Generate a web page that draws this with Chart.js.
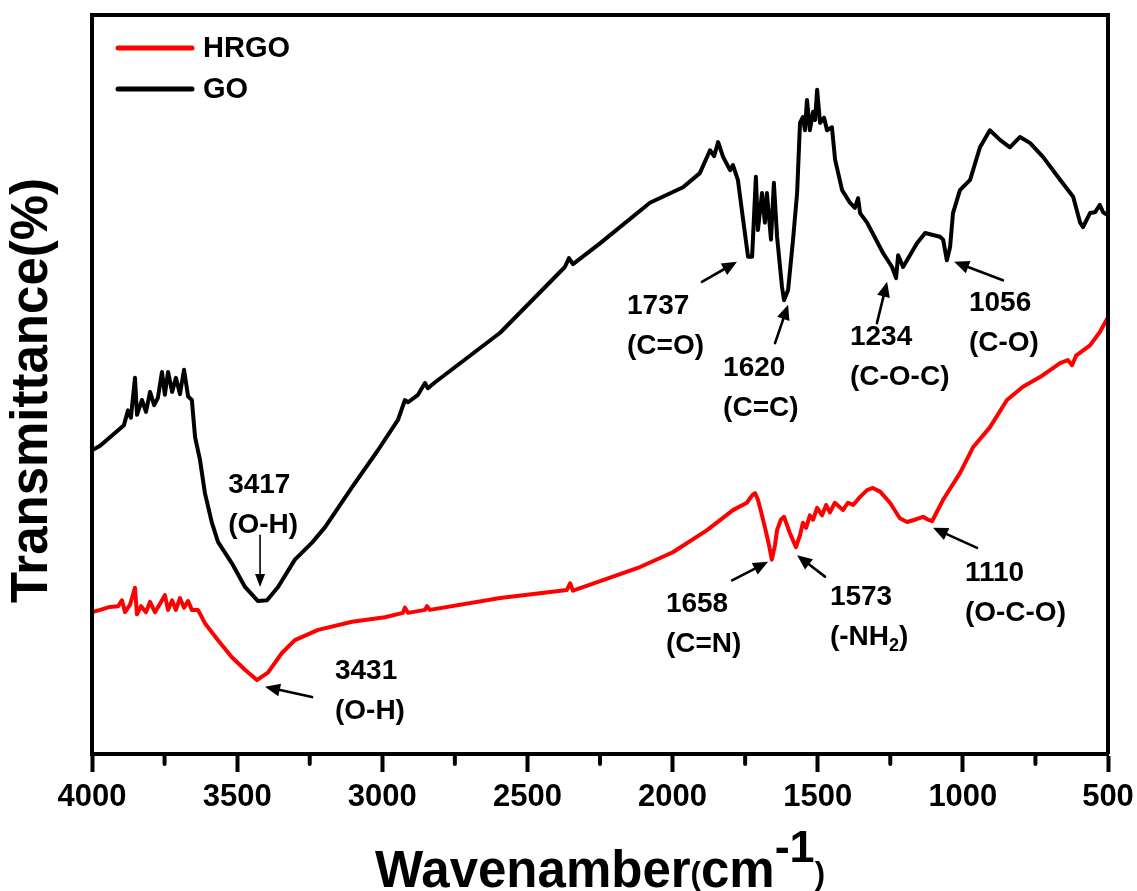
<!DOCTYPE html>
<html>
<head>
<meta charset="utf-8">
<title>FTIR spectra of GO and HRGO</title>
<script src="https://cdn.jsdelivr.net/npm/chart.js@4.4.0/dist/chart.umd.min.js"></script>
<style>
  html, body { margin: 0; padding: 0; background: #fff; }
  #wrap { width: 1137px; height: 891px; }
</style>
</head>
<body>
<div id="wrap"><canvas id="ftirChart" width="1137" height="891"></canvas></div>
<script>
// ==========================================
// Spectrum data
// ==========================================

const xTicks = [4000, 3500, 3000, 2500, 2000, 1500, 1000, 500];

const goWavenumber = [
    4000, 3972, 3910, 3890, 3876, 3866, 3852, 3845, 3828, 3814, 3800, 3786, 3773, 3759, 3749,
    3738, 3724, 3711, 3697, 3683, 3669, 3656, 3645, 3628, 3611, 3587, 3566, 3518, 3473, 3428,
    3397, 3359, 3301, 3242, 3197, 3104, 3015, 2946, 2922, 2911, 2877, 2853, 2843, 2818, 2594,
    2371, 2357, 2343, 2250, 2078, 1964, 1906, 1871, 1857, 1843, 1826, 1802, 1792, 1775, 1757,
    1740, 1726, 1713, 1706, 1692, 1682, 1675, 1661, 1651, 1640, 1623, 1616, 1602, 1585, 1571,
    1561, 1551, 1544, 1537, 1527, 1516, 1509, 1502, 1492, 1478, 1468, 1451, 1440, 1416, 1389,
    1372, 1361, 1354, 1330, 1275, 1244, 1230, 1223, 1206, 1158, 1130, 1079, 1068, 1055, 1044,
    1034, 1010, 975, 941, 907, 872, 838, 803, 769, 724, 665, 620, 596, 586, 562,
    545, 528, 517, 500
];
const goTransmittance = [
    41.1, 41.7, 43.8, 44.5, 46.5, 45.5, 50.9, 45.9, 47.9, 46.3, 49.0, 47.2, 48.2, 51.7, 48.6,
    51.7, 49.0, 50.9, 48.7, 52.0, 48.4, 47.9, 42.9, 39.8, 35.3, 31.3, 28.7, 25.8, 22.6, 20.7,
    20.8, 22.6, 26.3, 28.6, 30.7, 36.1, 41.1, 45.2, 47.9, 47.6, 48.6, 50.2, 49.5, 50.3, 57.0,
    65.9, 67.1, 66.3, 69.1, 74.6, 76.7, 78.6, 81.7, 80.9, 82.8, 80.8, 79.0, 79.7, 77.7, 72.3,
    67.3, 67.3, 78.1, 70.9, 75.9, 71.9, 75.9, 69.6, 77.3, 70.0, 63.2, 61.4, 62.8, 69.6, 75.9,
    85.4, 86.2, 84.4, 88.5, 84.4, 86.9, 85.8, 89.9, 85.4, 86.1, 84.4, 84.8, 80.4, 76.3, 74.6,
    73.9, 75.2, 73.2, 71.9, 67.8, 65.9, 64.4, 67.5, 65.9, 69.1, 70.5, 70.0, 69.6, 66.8, 68.6,
    73.2, 76.3, 77.7, 82.1, 84.4, 83.1, 82.1, 83.5, 82.7, 80.8, 77.7, 75.4, 71.9, 71.3, 73.2,
    73.3, 74.3, 73.3, 72.9
];

const hrgoWavenumber = [
    4000, 3972, 3938, 3910, 3897, 3886, 3869, 3852, 3845, 3831, 3814, 3800, 3783, 3766, 3749,
    3738, 3724, 3711, 3697, 3683, 3669, 3656, 3635, 3611, 3566, 3518, 3473, 3432, 3394, 3345,
    3301, 3221, 3104, 2991, 2929, 2922, 2911, 2853, 2846, 2836, 2594, 2364, 2353, 2343, 2112,
    1999, 1881, 1792, 1744, 1726, 1716, 1706, 1699, 1682, 1668, 1658, 1647, 1640, 1627, 1616,
    1606, 1596, 1575, 1561, 1551, 1540, 1527, 1516, 1502, 1485, 1471, 1458, 1441, 1413, 1396,
    1378, 1354, 1330, 1310, 1285, 1251, 1217, 1192, 1165, 1137, 1120, 1106, 1068, 1010, 965,
    907, 848, 793, 734, 665, 638, 624, 610, 562, 528, 500
];
const hrgoTransmittance = [
    19.2, 19.5, 19.9, 20.0, 20.8, 19.2, 20.2, 22.5, 18.9, 20.0, 19.2, 20.6, 19.2, 20.3, 21.5,
    19.5, 20.8, 19.5, 21.1, 19.8, 20.7, 19.5, 19.5, 17.7, 15.4, 13.1, 11.4, 10.0, 11.0, 13.7,
    15.4, 16.8, 17.9, 18.5, 19.1, 19.8, 19.1, 19.5, 20.0, 19.5, 21.1, 22.2, 23.1, 22.1, 25.3,
    27.3, 30.3, 33.0, 34.0, 35.0, 35.3, 34.4, 33.4, 30.7, 28.3, 26.3, 28.3, 30.3, 31.7, 32.1,
    31.0, 29.9, 28.0, 29.6, 31.3, 30.6, 32.3, 31.7, 33.3, 32.3, 33.7, 32.7, 34.0, 33.0, 34.0,
    33.7, 34.8, 35.7, 36.0, 35.5, 34.0, 31.9, 31.4, 31.7, 32.1, 31.7, 31.5, 34.4, 38.0, 41.5,
    44.2, 47.9, 49.7, 51.0, 52.9, 53.3, 52.6, 53.9, 55.3, 57.1, 59.1
];

// Peak assignments: text anchor and arrow (tail -> head) in data units
const peakNotes = [
    { lines: ['3417', '(O-H)'],   text: [3531, 36.4], arrow: [3421, 29.6, 3421, 22.6], thin: true },
    { lines: ['3431', '(O-H)'],   text: [3163, 11.2], arrow: [3242, 7.7, 3404, 9.1] },
    { lines: ['1737', '(C=O)'],   text: [2157, 60.6], arrow: [1899, 63.9, 1778, 66.6] },
    { lines: ['1620', '(C=C)'],   text: [1826, 52.2], arrow: [1647, 55.6, 1602, 60.8] },
    { lines: ['1234', '(C-O-C)'], text: [1389, 56.4], arrow: [1296, 58.3, 1261, 63.9] },
    { lines: ['1056', '(C-O)'],   text: [979, 61.0],  arrow: [862, 64.1, 1030, 66.6] },
    { lines: ['1658', '(C=N)'],   text: [2023, 20.3], arrow: [1795, 23.5, 1671, 26.0] },
    { lines: ['1573', '(-NH_2)'], text: [1458, 21.2], arrow: [1475, 24.0, 1571, 26.9] },
    { lines: ['1110', '(O-C-O)'], text: [993, 24.4],  arrow: [951, 27.9, 1103, 30.6] }
];

const FONT = "'Liberation Sans', Arial, sans-serif";

function toPoints(xs, ys) {
    return xs.map((x, i) => ({ x: x, y: ys[i] }));
}

// ==========================================
// Drawing helpers (frame, minor ticks, legend, notes, titles)
// ==========================================

function drawArrow(ctx, x1, y1, x2, y2, thin) {
    const ang = Math.atan2(y2 - y1, x2 - x1);
    const headLen = thin ? 13 : 15;
    const headW = thin ? 5 : 6.5;
    ctx.save();
    ctx.strokeStyle = '#000';
    ctx.fillStyle = '#000';
    ctx.lineWidth = thin ? 1.6 : 2.6;
    ctx.beginPath();
    ctx.moveTo(x1, y1);
    ctx.lineTo(x2 - Math.cos(ang) * headLen * 0.8, y2 - Math.sin(ang) * headLen * 0.8);
    ctx.stroke();
    ctx.beginPath();
    ctx.moveTo(x2, y2);
    ctx.lineTo(x2 - Math.cos(ang) * headLen + Math.sin(ang) * headW,
               y2 - Math.sin(ang) * headLen - Math.cos(ang) * headW);
    ctx.lineTo(x2 - Math.cos(ang) * headLen - Math.sin(ang) * headW,
               y2 - Math.sin(ang) * headLen + Math.cos(ang) * headW);
    ctx.closePath();
    ctx.fill();
    ctx.restore();
}

// draws "text" with "_2" style subscripts, left aligned, middle baseline
function drawNoteLine(ctx, text, x, y) {
    const parts = text.split(/_(\d)/);
    let cx = x;
    parts.forEach((part, i) => {
        if (!part) return;
        if (i % 2 === 1) {
            ctx.font = `bold 18px ${FONT}`;
            ctx.fillText(part, cx, y + 9);
        } else {
            ctx.font = `bold 28px ${FONT}`;
            ctx.fillText(part, cx, y);
        }
        cx += ctx.measureText(part).width;
    });
}

const decorPlugin = {
    id: 'decor',
    afterDraw(chart) {
        const ctx = chart.ctx;
        const area = chart.chartArea;
        const xs = chart.scales.x;
        const ys = chart.scales.y;

        ctx.save();
        ctx.strokeStyle = '#000';
        ctx.lineCap = 'butt';

        // frame
        ctx.lineWidth = 4;
        ctx.beginPath();
        ctx.moveTo(area.left, area.bottom);
        ctx.lineTo(area.left, area.top);
        ctx.lineTo(area.right, area.top);
        ctx.lineTo(area.right, area.bottom);
        ctx.stroke();

        // minor ticks every 250
        ctx.lineWidth = 4;
        ctx.lineCap = 'round';
        for (let w = 750; w < 4000; w += 500) {
            const px = xs.getPixelForValue(w);
            ctx.beginPath();
            ctx.moveTo(px, area.bottom);
            ctx.lineTo(px, area.bottom + 10);
            ctx.stroke();
        }

        // legend
        const legendItems = chart.data.datasets.map(ds => ({ label: ds.label, color: ds.borderColor }));
        legendItems.forEach((item, i) => {
            const ly = area.top + 33 + i * 41;
            ctx.strokeStyle = item.color;
            ctx.lineWidth = 5;
            ctx.lineCap = 'round';
            ctx.beginPath();
            ctx.moveTo(area.left + 26, ly);
            ctx.lineTo(area.left + 100, ly);
            ctx.stroke();
            ctx.fillStyle = '#000';
            ctx.font = `bold 29px ${FONT}`;
            ctx.textAlign = 'left';
            ctx.textBaseline = 'middle';
            ctx.fillText(item.label, area.left + 111, ly + 1);
        });

        // peak notes
        ctx.fillStyle = '#000';
        ctx.textAlign = 'left';
        ctx.textBaseline = 'middle';
        peakNotes.forEach(note => {
            const tx = xs.getPixelForValue(note.text[0]);
            const ty = ys.getPixelForValue(note.text[1]);
            note.lines.forEach((line, i) => drawNoteLine(ctx, line, tx, ty + i * 40));
            const a = note.arrow;
            drawArrow(ctx,
                xs.getPixelForValue(a[0]), ys.getPixelForValue(a[1]),
                xs.getPixelForValue(a[2]), ys.getPixelForValue(a[3]), note.thin);
        });

        // y axis title
        ctx.save();
        ctx.translate(33, (area.top + area.bottom) / 2 + 6);
        ctx.rotate(-Math.PI / 2);
        ctx.font = `bold 51px ${FONT}`;
        ctx.textAlign = 'center';
        ctx.textBaseline = 'middle';
        ctx.fillText('Transmittance(%)', 0, 0);
        ctx.restore();

        // x axis title: Wavenamber(cm^-1)
        const pieces = [
            { t: 'Wavenamber', size: 51, dy: 0 },
            { t: '(', size: 31, dy: -3 },
            { t: 'cm', size: 51, dy: 0 },
            { t: '-1', size: 45, dy: -25 },
            { t: ')', size: 31, dy: -3 }
        ];
        let total = 0;
        pieces.forEach(p => {
            ctx.font = `bold ${p.size}px ${FONT}`;
            p.w = ctx.measureText(p.t).width;
            total += p.w;
        });
        let cx = (area.left + area.right) / 2 - total / 2;
        const base = 887;
        ctx.textAlign = 'left';
        ctx.textBaseline = 'alphabetic';
        pieces.forEach(p => {
            ctx.font = `bold ${p.size}px ${FONT}`;
            ctx.fillText(p.t, cx, base + p.dy);
            cx += p.w;
        });

        ctx.restore();
    }
};

// ==========================================
// Chart
// ==========================================

function initFtirChart() {
    const ctx = document.getElementById('ftirChart');

    new Chart(ctx, {
        type: 'line',
        data: {
            datasets: [
                {
                    label: 'HRGO',
                    data: toPoints(hrgoWavenumber, hrgoTransmittance),
                    borderColor: '#ff0000',
                    borderWidth: 4,
                    pointRadius: 0,
                    tension: 0,
                    borderJoinStyle: 'round',
                    fill: false
                },
                {
                    label: 'GO',
                    data: toPoints(goWavenumber, goTransmittance),
                    borderColor: '#000000',
                    borderWidth: 4,
                    pointRadius: 0,
                    tension: 0,
                    borderJoinStyle: 'round',
                    fill: false
                }
            ]
        },
        options: {
            responsive: false,
            animation: false,
            layout: {
                padding: { left: 92, right: 29, top: 15, bottom: 0 }
            },
            plugins: {
                legend: { display: false },
                tooltip: { enabled: false }
            },
            scales: {
                x: {
                    type: 'linear',
                    position: 'bottom',
                    reverse: true,
                    min: 500,
                    max: 4000,
                    afterBuildTicks: scale => {
                        scale.ticks = xTicks.map(v => ({ value: v }));
                    },
                    afterFit: scale => {
                        // keep the plot box where the figure has it
                        scale.paddingLeft = 0;
                        scale.paddingRight = 0;
                        scale.height = 137;
                    },
                    ticks: {
                        color: '#000',
                        padding: 7,
                        maxRotation: 0,
                        autoSkip: false,
                        font: { family: FONT, size: 31, weight: 'bold' },
                        callback: value => String(value)
                    },
                    grid: {
                        drawOnChartArea: false,
                        drawTicks: true,
                        tickLength: 18,
                        tickWidth: 4,
                        tickColor: '#000'
                    },
                    border: { display: true, color: '#000', width: 4 }
                },
                y: {
                    display: false,
                    min: 0,
                    max: 100
                }
            }
        },
        plugins: [decorPlugin]
    });
}

document.addEventListener('DOMContentLoaded', initFtirChart);
</script>
</body>
</html>
